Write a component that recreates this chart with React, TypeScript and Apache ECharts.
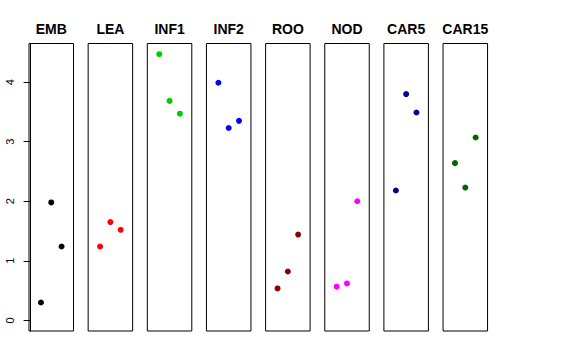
import React, { useEffect, useRef } from "react";
import * as echarts from "echarts";

const panels = ["EMB", "LEA", "INF1", "INF2", "ROO", "NOD", "CAR5", "CAR15"];
const colors = ["#000000", "#FF0000", "#00CD00", "#0000FF", "#8B0000", "#FF00FF", "#00008B", "#006400"];
const xPositions = [1, 2, 3];
const values = [
  [0.3, 1.98, 1.24],
  [1.24, 1.65, 1.52],
  [4.47, 3.685, 3.47],
  [3.99, 3.23, 3.35],
  [0.536, 0.82, 1.44],
  [0.565, 0.62, 2.0],
  [2.18, 3.8, 3.49],
  [2.64, 2.23, 3.07],
];
const yTicks = [0, 1, 2, 3, 4];

export default function App() {
  const ref = useRef<HTMLDivElement>(null);
  useEffect(() => {
    const chart = echarts.init(ref.current!, null, { renderer: "svg" });
    const left0 = 29;
    const pitch = 59.15;
    const w = 44.5;
    const top = 43.5;
    const h = 287.5;
    const grids = panels.map((_, i) => ({
      left: left0 + i * pitch,
      top,
      width: w,
      height: h,
      show: true,
      borderColor: "#000",
      borderWidth: 1,
      backgroundColor: "transparent",
    }));
    const xAxes = panels.map((_, i) => ({
      type: "value",
      gridIndex: i,
      min: -0.16,
      max: 4.16,
      show: false,
    }));
    const yAxes = panels.map((_, i) => ({
      type: "value",
      gridIndex: i,
      min: -0.179,
      max: 4.649,
      show: i === 0,
      splitLine: { show: false },
      axisLine: { show: true, lineStyle: { color: "#000" } },
      axisTick: { show: true, length: 7, customValues: yTicks, lineStyle: { color: "#000" } },
      axisLabel: {
        show: true,
        customValues: yTicks,
        rotate: 90,
        margin: 14,
        fontSize: 11,
        color: "#000",
        fontFamily: "Liberation Sans, Arial, sans-serif",
      },
    }));
    const series = panels.map((name, i) => ({
      type: "scatter",
      name,
      xAxisIndex: i,
      yAxisIndex: i,
      symbolSize: 6,
      itemStyle: { color: colors[i], opacity: 1 },
      data: xPositions.map((x, j) => [x, values[i][j]]),
    }));
    const graphic = panels.map((name, i) => ({
      type: "text",
      x: left0 + i * pitch + w / 2,
      y: 29,
      style: {
        text: name,
        textAlign: "center",
        textVerticalAlign: "middle",
        font: "bold 14px 'Liberation Sans', Arial, sans-serif",
        fill: "#000",
      },
    }));
    chart.setOption({
      animation: false,
      backgroundColor: "#fff",
      grid: grids,
      xAxis: xAxes,
      yAxis: yAxes,
      series,
      graphic,
    } as any);
    return () => chart.dispose();
  }, []);
  return <div ref={ref} style={{ position: "fixed", left: 0, top: 0, width: 576, height: 360 }} />;
}
